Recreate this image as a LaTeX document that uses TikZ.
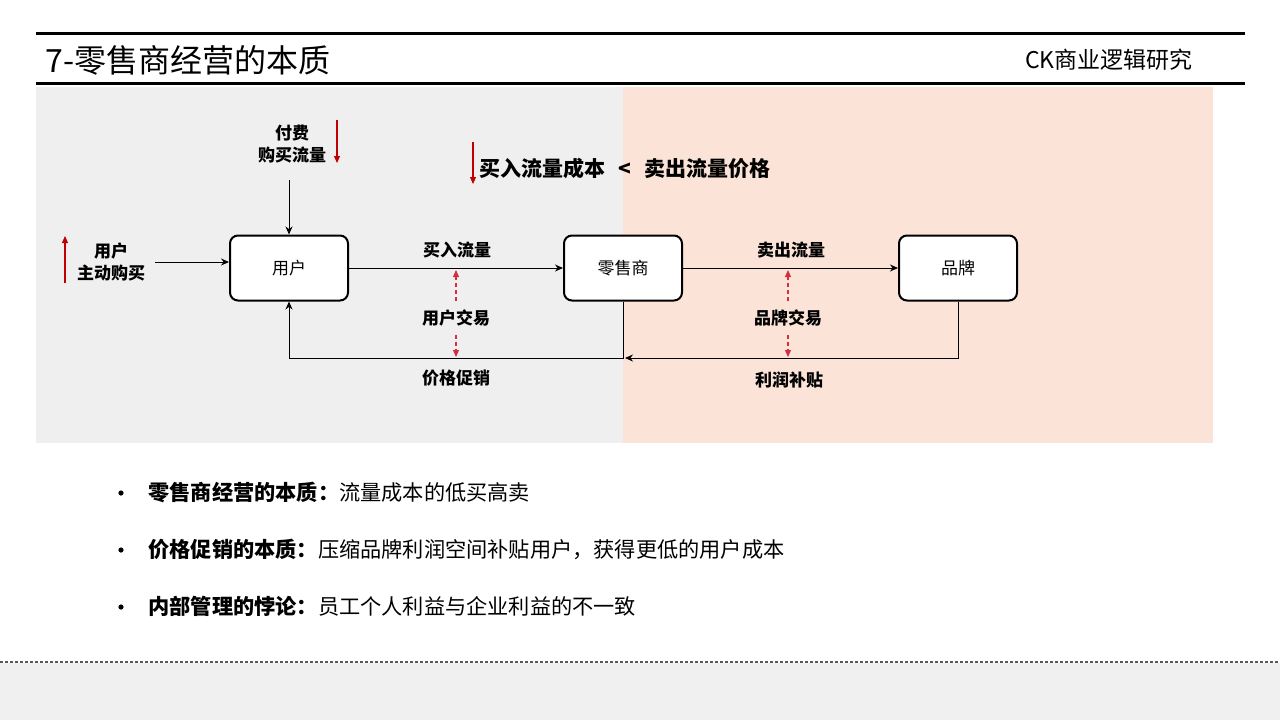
\documentclass[tikz,border=0pt]{standalone}
\usepackage{fontspec}
\setmainfont{Noto Sans CJK SC}
\usetikzlibrary{arrows.meta}
\definecolor{leftbg}{HTML}{EFEFEF}
\definecolor{rightbg}{HTML}{FBE4D7}
\definecolor{footbg}{HTML}{F0F0F0}
\definecolor{darkred}{HTML}{C00000}
\definecolor{softred}{HTML}{D03040}
\begin{document}
\begin{tikzpicture}[x=0.5pt,y=-0.5pt,
    blk/.style={draw,line width=1pt,rounded corners=4pt,fill=white,
      minimum width=59pt,minimum height=32.5pt,font=\fontsize{8.5}{10}\selectfont},
    lbl/.style={font=\fontsize{8.5}{11}\selectfont\bfseries,align=center,inner sep=1pt},
    arr/.style={-{Stealth[length=4pt,width=3.5pt]},line width=0.5pt},
    rarr/.style={-{Triangle[length=3.5pt,width=3pt]},line width=0.6pt,darkred},
    darr/.style={-{Triangle[length=3.5pt,width=3pt]},line width=0.6pt,softred,dash pattern=on 2pt off 1.5pt},
    bul/.style={anchor=base west,inner sep=0pt,font=\fontsize{10.6}{12}\selectfont}]
  \useasboundingbox (0,0) rectangle (1280,720);
  % header
  \draw[line width=1.5pt] (36,33) -- (1245,33);
  \draw[line width=1.5pt] (36,83) -- (1245,83);
  \node[anchor=west,inner sep=0pt,font=\fontsize{16}{19}\selectfont] (title) at (45,60) {7-零售商经营的本质};
  \node[anchor=east,inner sep=0pt,font=\fontsize{11.5}{14}\selectfont] (brandname) at (1193,60) {CK商业逻辑研究};
  % backgrounds
  \fill[leftbg] (36,87) rectangle (623,443);
  \fill[rightbg] (623,87) rectangle (1213,443);
  % boxes
  \node[blk] (user) at (289,268) {用户};
  \node[blk] (retail) at (623,268) {零售商};
  \node[blk] (brand) at (958,268) {品牌};
  \draw[arr] (user) -- (retail);
  \draw[arr] (retail) -- (brand);
  \coordinate (j) at (623,358);
  \draw[arr] (retail.south) -- (j) -| (user.south);
  \draw[arr] (brand.south) |- ([xshift=1pt]j);
  % labels on flows
  \node[lbl] (buyin) at (457,250) {买入流量};
  \node[lbl] (sellout) at (791,250) {卖出流量};
  \node[lbl] (promo) at (456,378) {价格促销};
  \node[lbl] (subsidy) at (789,380) {利润补贴};
  \node[lbl,inner sep=4pt] (utrade) at (456,318) {用户交易};
  \node[lbl,inner sep=4pt] (btrade) at (788,318) {品牌交易};
  \draw[darr] (utrade.north) -- (456,270);
  \draw[darr] (utrade.south) -- (456,357);
  \draw[darr] (btrade.north) -- (788,270);
  \draw[darr] (btrade.south) -- (788,357);
  % inputs to user
  \node[lbl] (paid) at (292,144) {付费\\购买流量};
  \coordinate (paidtop) at (289,180);
  \draw[arr] (paidtop) -- (user.north);
  \node[lbl] (self) at (111,262) {用户\\主动购买};
  \coordinate (selfend) at (155,262);
  \draw[arr] (selfend) -- (selfend -| user.west);
  % red trend arrows
  \coordinate (r1a) at (337,120); \coordinate (r1b) at (337,163);
  \draw[rarr] (r1a) -- (r1b);
  \coordinate (r2a) at (473,142); \coordinate (r2b) at (473,184);
  \draw[rarr] (r2a) -- (r2b);
  \coordinate (r3a) at (65,283); \coordinate (r3b) at (65,236);
  \draw[rarr] (r3a) -- (r3b);
  \node[anchor=west,inner sep=0pt,font=\fontsize{10.5}{12}\selectfont\bfseries] (rule) at (479,168) {买入流量成本 \, < \, 卖出流量价格};
  % bullets
  \foreach \yy/\nm/\hd/\tx in {493/b1/零售商经营的本质：/流量成本的低买高卖,
      550/b2/价格促销的本质：/压缩品牌利润空间补贴用户，获得更低的用户成本,
      607/b3/内部管理的悖论：/员工个人利益与企业利益的不一致}{
    \fill (121,\yy) circle (1.3pt) coordinate (dot\nm);
    \node[bul] (\nm) at (148,\yy+7) {{\bfseries\hd}\tx};
  }
  % footer
  \fill[footbg] (0,663) rectangle (1280,720);
  \draw[gray!70!black,line width=0.7pt,dash pattern=on 1.5pt off 1pt] (0,662) -- (1280,662);
\end{tikzpicture}
\end{document}
